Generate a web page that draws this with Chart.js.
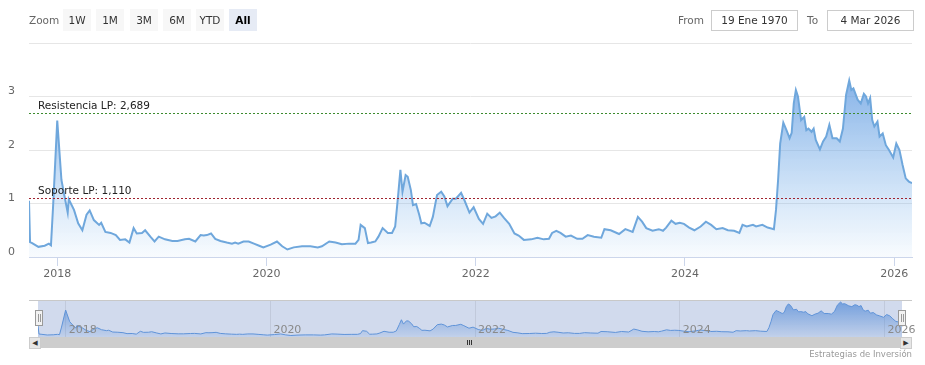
<!DOCTYPE html>
<html>
<head>
<title>Chart</title>
<script src="https://cdn.jsdelivr.net/npm/chart.js"></script>
<style>
    body { margin: 0; background: #fff; font-family: "DejaVu Sans", Verdana, sans-serif; }
    #wrap { position: relative; width: 925px; height: 365px; overflow: hidden; }
    #mainChart { position: absolute; left: 0; top: 0; }
    #navChart { position: absolute; left: 0; top: 300px; }
    .lbl { position: absolute; top: 9px; line-height: 22px; font-size: 10.5px; color: #666; }
    .btn { position: absolute; top: 9px; width: 28px; height: 22px; line-height: 22px; text-align: center;
           font-size: 10.5px; color: #333; background: #f7f7f7; }
    .btn.on { background: #e6ebf5; color: #000; font-weight: bold; }
    .inp { position: absolute; top: 10px; height: 19px; line-height: 19px; text-align: center;
           font-size: 10.5px; color: #333; border: 1px solid #ccc; background: #fff; }
    .handle { position: absolute; top: 310px; width: 6px; height: 14px; background: #f2f2f2; border: 1px solid #999; }
    .handle i { position: absolute; top: 3px; width: 1px; height: 8px; background: #999; }
    #track { position: absolute; left: 29px; top: 337px; width: 883px; height: 11px; background: #f2f2f2; }
    #bar { position: absolute; left: 40px; top: 337px; width: 861px; height: 11px; background: #cdcdcd; }
    .arrow { position: absolute; top: 337px; width: 10px; height: 10px; background: #e6e6e6; border: 1px solid #ccc;
             font-size: 7px; line-height: 10px; text-align: center; color: #333; }
    .grip { position: absolute; top: 340px; width: 1px; height: 5px; background: #333; }
    #navTop { position: absolute; left: 29px; top: 300px; width: 883px; height: 1px; background: #c8c8c8; }
    #credits { position: absolute; right: 13px; top: 349px; font-size: 8.5px; color: #999; }
</style>
</head>
<body>
<div id="wrap">
    <canvas id="mainChart" width="925" height="290"></canvas>
    <canvas id="navChart" width="925" height="37"></canvas>

    <div class="lbl" style="left:29px;">Zoom</div>
    <div class="btn" style="left:63px;">1W</div>
    <div class="btn" style="left:96px;">1M</div>
    <div class="btn" style="left:130px;">3M</div>
    <div class="btn" style="left:163px;">6M</div>
    <div class="btn" style="left:196px;">YTD</div>
    <div class="btn on" style="left:229px;">All</div>

    <div class="lbl" style="left:678px;">From</div>
    <div class="inp" style="left:711px; width:85px;">19 Ene 1970</div>
    <div class="lbl" style="left:807px;">To</div>
    <div class="inp" style="left:827px; width:85px;">4 Mar 2026</div>

    <div id="navTop"></div>

    <div id="track"></div>
    <div id="bar"></div>
    <div class="arrow" style="left:29px;">&#9664;</div>
    <div class="arrow" style="left:900px;">&#9654;</div>
    <div class="grip" style="left:467px;"></div>
    <div class="grip" style="left:469px;"></div>
    <div class="grip" style="left:471px;"></div>

    <div class="handle" style="left:35px;"><i style="left:2px;"></i><i style="left:4px;"></i></div>
    <div class="handle" style="left:898px;"><i style="left:2px;"></i><i style="left:4px;"></i></div>

    <div id="credits">Estrategias de Inversión</div>
</div>

<script>
    // Dates as decimal years
    var dates = [
        2017.73, 2017.74, 2017.76, 2017.82, 2017.88, 2017.92, 2017.94, 2017.96, 2018.00, 2018.04,
        2018.07, 2018.10, 2018.11, 2018.16, 2018.20, 2018.24, 2018.28, 2018.31, 2018.35, 2018.40,
        2018.42, 2018.46, 2018.51, 2018.56, 2018.60, 2018.65, 2018.69, 2018.73, 2018.76, 2018.81,
        2018.84, 2018.89, 2018.93, 2018.97, 2019.03, 2019.10, 2019.15, 2019.22, 2019.26, 2019.32,
        2019.37, 2019.40, 2019.43, 2019.47, 2019.51, 2019.56, 2019.62, 2019.67, 2019.70, 2019.73,
        2019.78, 2019.83, 2019.88, 2019.93, 2019.97, 2020.04, 2020.10, 2020.15, 2020.20, 2020.26,
        2020.34, 2020.42, 2020.49, 2020.53, 2020.60, 2020.66, 2020.72, 2020.79, 2020.85, 2020.88,
        2020.90, 2020.94, 2020.97, 2021.00, 2021.04, 2021.07, 2021.11, 2021.16, 2021.20, 2021.23,
        2021.26, 2021.28, 2021.30, 2021.33, 2021.35, 2021.38, 2021.40, 2021.43, 2021.46, 2021.48,
        2021.51, 2021.56, 2021.59, 2021.63, 2021.67, 2021.70, 2021.73, 2021.78, 2021.81, 2021.86,
        2021.89, 2021.94, 2021.98, 2022.03, 2022.07, 2022.11, 2022.15, 2022.19, 2022.23, 2022.27,
        2022.32, 2022.37, 2022.41, 2022.46, 2022.53, 2022.59, 2022.65, 2022.70, 2022.73, 2022.77,
        2022.81, 2022.86, 2022.91, 2022.97, 2023.02, 2023.07, 2023.13, 2023.20, 2023.23, 2023.29,
        2023.37, 2023.43, 2023.50, 2023.55, 2023.59, 2023.63, 2023.69, 2023.75, 2023.79, 2023.82,
        2023.87, 2023.91, 2023.95, 2023.99, 2024.04, 2024.09, 2024.15, 2024.20, 2024.25, 2024.30,
        2024.36, 2024.41, 2024.47, 2024.52, 2024.55, 2024.59, 2024.65, 2024.68, 2024.74, 2024.79,
        2024.85, 2024.87, 2024.89, 2024.91, 2024.94, 2024.97, 2025.00, 2025.02, 2025.04, 2025.06,
        2025.08, 2025.11, 2025.14, 2025.16, 2025.18, 2025.21, 2025.23, 2025.25, 2025.29, 2025.32,
        2025.35, 2025.38, 2025.41, 2025.45, 2025.48, 2025.51, 2025.54, 2025.57, 2025.59, 2025.61,
        2025.65, 2025.68, 2025.71, 2025.73, 2025.75, 2025.77, 2025.79, 2025.81, 2025.84, 2025.86,
        2025.89, 2025.92, 2025.95, 2025.99, 2026.02, 2026.05, 2026.08, 2026.11, 2026.14, 2026.17
    ];
    var values = [
        1.05, 0.28, 0.26, 0.19, 0.21, 0.25, 0.22, 0.94, 2.55, 1.44,
        1.13, 0.83, 1.08, 0.88, 0.63, 0.50, 0.79, 0.87, 0.69, 0.60,
        0.64, 0.47, 0.45, 0.41, 0.32, 0.33, 0.27, 0.54, 0.44, 0.45,
        0.50, 0.38, 0.29, 0.38, 0.33, 0.30, 0.30, 0.33, 0.34, 0.29,
        0.41, 0.40, 0.41, 0.44, 0.34, 0.30, 0.27, 0.25, 0.27, 0.25,
        0.29, 0.29, 0.25, 0.21, 0.18, 0.23, 0.29, 0.20, 0.14, 0.18,
        0.20, 0.20, 0.18, 0.20, 0.29, 0.27, 0.24, 0.25, 0.25, 0.32,
        0.60, 0.54, 0.26, 0.27, 0.29, 0.38, 0.54, 0.45, 0.45, 0.57,
        1.19, 1.63, 1.22, 1.53, 1.50, 1.25, 0.97, 0.99, 0.79, 0.63,
        0.64, 0.58, 0.75, 1.16, 1.22, 1.13, 0.95, 1.09, 1.09, 1.20,
        1.07, 0.83, 0.93, 0.71, 0.62, 0.81, 0.73, 0.76, 0.83, 0.73,
        0.62, 0.44, 0.40, 0.32, 0.33, 0.36, 0.33, 0.34, 0.45, 0.49,
        0.45, 0.38, 0.40, 0.34, 0.34, 0.41, 0.38, 0.36, 0.52, 0.50,
        0.43, 0.52, 0.47, 0.75, 0.66, 0.54, 0.49, 0.52, 0.49, 0.55,
        0.68, 0.62, 0.64, 0.62, 0.55, 0.50, 0.57, 0.66, 0.60, 0.52,
        0.54, 0.50, 0.49, 0.45, 0.60, 0.57, 0.60, 0.57, 0.60, 0.55,
        0.52, 0.88, 1.44, 2.12, 2.51, 2.37, 2.22, 2.32, 2.87, 3.12,
        3.00, 2.56, 2.62, 2.37, 2.40, 2.34, 2.40, 2.19, 2.01, 2.16,
        2.25, 2.47, 2.22, 2.22, 2.16, 2.40, 3.03, 3.30, 3.12, 3.15,
        2.94, 2.87, 3.05, 3.00, 2.87, 2.97, 2.56, 2.44, 2.53, 2.25,
        2.31, 2.09, 2.00, 1.86, 2.12, 2.00, 1.72, 1.47, 1.41, 1.38
    ];
    var yTicks = [0, 1, 2, 3, 4];
    var xTicks = [2018, 2020, 2022, 2024, 2026];
    var levelValues = [2.689, 1.110];
    var levelLabels = ['Resistencia LP: 2,689', 'Soporte LP: 1,110'];

    var points = dates.map(function (d, i) {
        return { x: d, y: values[i] };
    });
    var maxValue = Math.max.apply(null, values);
    var FONT = '"DejaVu Sans", Verdana, sans-serif';

    function setTicks(list) {
        return function (scale) {
            scale.ticks = list.map(function (v) { return { value: v }; });
        };
    }

    function gradientFill(top, bottom) {
        return function (context) {
            var chart = context.chart;
            if (!chart.chartArea) return null;
            var g = chart.ctx.createLinearGradient(0, chart.scales.y.getPixelForValue(maxValue), 0, chart.chartArea.bottom);
            g.addColorStop(0, top);
            g.addColorStop(1, bottom);
            return g;
        };
    }

    // Support / resistance lines with their labels
    var levelColors = ['#3d8b2f', '#a0232f'];
    var levelPlugin = {
        id: 'levels',
        afterDatasetsDraw: function (chart) {
            var ctx = chart.ctx, area = chart.chartArea, y = chart.scales.y;
            levelValues.forEach(function (v, i) {
                var py = Math.round(y.getPixelForValue(v)) + 0.5;
                ctx.save();
                ctx.strokeStyle = levelColors[i];
                ctx.lineWidth = 1;
                ctx.setLineDash([2, 2]);
                ctx.beginPath();
                ctx.moveTo(area.left, py);
                ctx.lineTo(area.right, py);
                ctx.stroke();
                ctx.fillStyle = '#222';
                ctx.font = '10.5px ' + FONT;
                ctx.textBaseline = 'alphabetic';
                ctx.fillText(levelLabels[i], area.left + 9, py - 5);
                ctx.restore();
            });
        }
    };

    var mainChart = new Chart(document.getElementById('mainChart').getContext('2d'), {
        type: 'line',
        data: {
            datasets: [{
                data: points,
                borderColor: '#6fa7dc',
                borderWidth: 2,
                pointRadius: 0,
                tension: 0,
                fill: 'origin',
                backgroundColor: gradientFill('rgba(105,160,226,0.8)', 'rgba(124,181,236,0.05)')
            }]
        },
        options: {
            responsive: false,
            animation: false,
            events: [],
            layout: { padding: { left: 0, right: 13, top: 43, bottom: 0 } },
            plugins: { legend: { display: false }, tooltip: { enabled: false } },
            scales: {
                x: {
                    type: 'linear',
                    min: dates[0],
                    max: dates[dates.length - 1],
                    afterBuildTicks: setTicks(xTicks),
                    afterFit: function (s) { s.height = 33; },
                    grid: { drawOnChartArea: false, drawTicks: true, tickLength: 9, tickColor: '#ccd6eb' },
                    border: { color: '#ccd6eb' },
                    ticks: {
                        color: '#666', font: { size: 11, family: FONT }, padding: 2,
                        maxRotation: 0, autoSkip: false,
                        callback: function (v) { return String(v); }
                    }
                },
                y: {
                    min: 0,
                    max: 4,
                    afterBuildTicks: setTicks(yTicks),
                    afterFit: function (s) { s.width = 29; },
                    grid: { color: '#e6e6e6', drawTicks: false },
                    border: { display: false },
                    ticks: {
                        color: '#666', font: { size: 11, family: FONT }, padding: 14, labelOffset: -5,
                        callback: function (v) { return v === 4 ? '' : String(v); }
                    }
                }
            }
        },
        plugins: [levelPlugin]
    });

    // Navigator below the main chart: mask behind, year labels inside the plot
    var navPlugin = {
        id: 'navigator',
        beforeDraw: function (chart) {
            var a = chart.chartArea, ctx = chart.ctx;
            ctx.save();
            ctx.fillStyle = 'rgba(102,133,194,0.3)';
            ctx.fillRect(a.left, a.top, a.right - a.left, a.bottom - a.top);
            ctx.restore();
        },
        afterDraw: function (chart) {
            var a = chart.chartArea, ctx = chart.ctx, x = chart.scales.x;
            ctx.save();
            ctx.fillStyle = '#8a8a8a';
            ctx.font = '11px ' + FONT;
            ctx.textAlign = 'left';
            ctx.textBaseline = 'alphabetic';
            xTicks.forEach(function (v) {
                ctx.fillText(String(v), x.getPixelForValue(v) + 3, a.bottom - 4);
            });
            ctx.restore();
        }
    };

    var navChart = new Chart(document.getElementById('navChart').getContext('2d'), {
        type: 'line',
        data: {
            datasets: [{
                data: points,
                borderColor: '#5f93d8',
                borderWidth: 1,
                pointRadius: 0,
                tension: 0,
                fill: 'origin',
                backgroundColor: gradientFill('rgba(85,140,215,0.75)', 'rgba(85,140,215,0.12)')
            }]
        },
        options: {
            responsive: false,
            animation: false,
            events: [],
            layout: { padding: { left: 38, right: 23, top: 1, bottom: 0 } },
            plugins: { legend: { display: false }, tooltip: { enabled: false } },
            scales: {
                x: {
                    type: 'linear',
                    min: dates[0],
                    max: dates[dates.length - 1],
                    afterBuildTicks: setTicks(xTicks),
                    afterFit: function (s) { s.height = 0; },
                    grid: { color: 'rgba(0,0,0,0.08)', drawTicks: false },
                    border: { display: false },
                    ticks: { display: false }
                },
                y: { display: false, min: 0, max: maxValue + 0.1 }
            }
        },
        plugins: [navPlugin]
    });
</script>
</body>
</html>
